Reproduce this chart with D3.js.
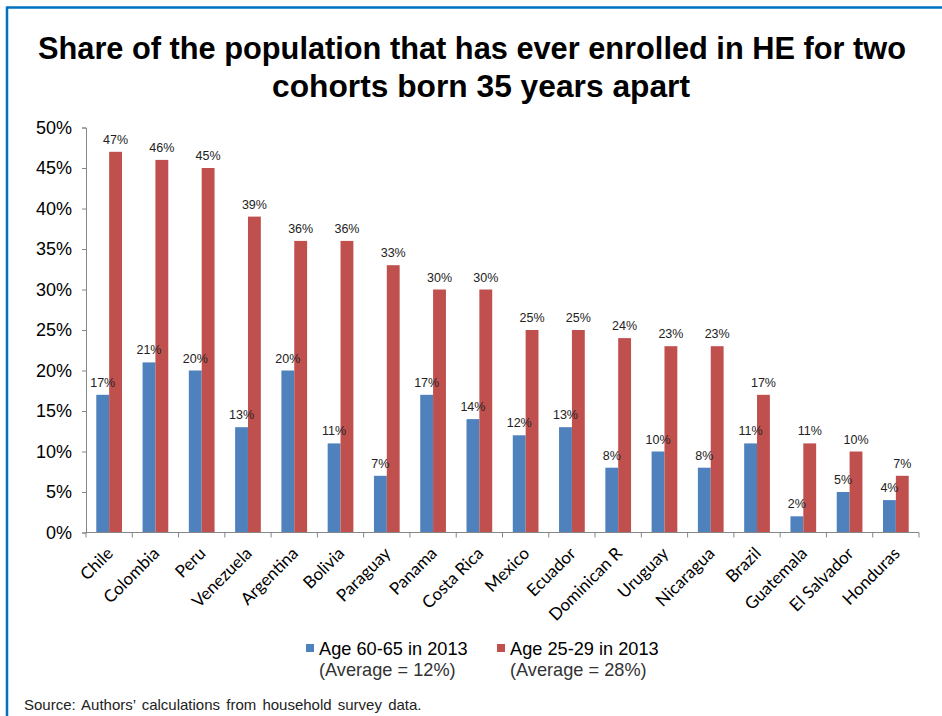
<!DOCTYPE html>
<html>
<head>
<meta charset="utf-8">
<script src="https://cdn.jsdelivr.net/npm/d3@7"></script>
<style>
  html, body { margin: 0; padding: 0; background: #fff; }
  svg { display: block; }
</style>
</head>
<body>
<svg id="chart" width="942" height="716"></svg>
<script>
const countries = ["Chile","Colombia","Peru","Venezuela","Argentina","Bolivia","Paraguay","Panama","Costa Rica","Mexico","Ecuador","Dominican R","Uruguay","Nicaragua","Brazil","Guatemala","El Salvador","Honduras"];
const age6065 = [17,21,20,13,20,11,7,17,14,12,13,8,10,8,11,2,5,4];
const age2529 = [47,46,45,39,36,36,33,30,30,25,25,24,23,23,17,11,10,7];
const yTicks = [0,5,10,15,20,25,30,35,40,45,50];
const seriesNames = ["Age 60-65 in 2013","Age 25-29 in 2013"];
const seriesNotes = ["(Average = 12%)","(Average = 28%)"];
const seriesColors = ["#4F81BD","#C0504D"];

const svg = d3.select("#chart");

// frame
svg.append("line").attr("x1",7).attr("x2",942).attr("y1",7.5).attr("y2",7.5)
  .attr("stroke","#0070C0").attr("stroke-width",2.5);
svg.append("line").attr("x1",7).attr("x2",7).attr("y1",6.5).attr("y2",716)
  .attr("stroke","#0070C0").attr("stroke-width",2.5);

// title
const title = svg.append("text").attr("text-anchor","middle")
  .attr("font-family","'Liberation Sans', Arial, sans-serif")
  .attr("font-weight","bold").attr("font-size",31).attr("fill","#000");
title.append("tspan").attr("x",472).attr("y",59)
  .attr("textLength",868).attr("lengthAdjust","spacingAndGlyphs")
  .text("Share of the population that has ever enrolled in HE for two");
title.append("tspan").attr("x",481).attr("y",97)
  .attr("textLength",418).attr("lengthAdjust","spacingAndGlyphs")
  .text("cohorts born 35 years apart");

const plotL = 86, plotR = 919, plotT = 127.5, plotB = 532.5;
const x = d3.scaleBand().domain(countries).range([plotL,plotR]).paddingInner(0).paddingOuter(0);
const inner = d3.scaleBand().domain([0,1]).range([0,x.bandwidth()]).paddingInner(0).paddingOuter(0.8);
const y = d3.scaleLinear().domain([0,50]).range([plotB,plotT]);

// y axis
const yAxis = d3.axisLeft(y).tickValues(yTicks).tickSize(4).tickFormat(d => d + "%");
const gy = svg.append("g").attr("transform",`translate(${plotL},0)`).call(yAxis);
gy.select(".domain").attr("stroke","#868686");
gy.selectAll(".tick line").attr("stroke","#868686");
gy.selectAll(".tick text").attr("font-family","'Liberation Sans', Arial, sans-serif")
  .attr("font-size",18).attr("fill","#000").attr("x",-14);

// bars
const data = countries.map((c,i) => ({c, v:[age6065[i], age2529[i]]}));
const groups = svg.append("g").selectAll("g").data(data).join("g")
  .attr("transform", d => `translate(${x(d.c)},0)`);
groups.selectAll("rect").data(d => d.v.map((v,k)=>({v,k}))).join("rect")
  .attr("x", d => inner(d.k)).attr("width", inner.bandwidth())
  .attr("y", d => y(d.v)).attr("height", d => plotB - y(d.v))
  .attr("fill", d => seriesColors[d.k]);
groups.selectAll("text.lab").data(d => d.v.map((v,k)=>({v,k}))).join("text")
  .attr("class","lab")
  .attr("x", d => inner(d.k) + inner.bandwidth()/2)
  .attr("y", d => y(d.v) - 8)
  .attr("text-anchor","middle")
  .attr("font-family","'Liberation Sans', Arial, sans-serif")
  .attr("font-size",12.5).attr("fill","#222")
  .text(d => d.v + "%");

// x axis
const gx = svg.append("g").attr("transform",`translate(0,${plotB})`);
gx.append("line").attr("x1",plotL).attr("x2",plotR).attr("stroke","#868686");
const bounds = countries.map(c => x(c)).concat([plotR]);
gx.selectAll("line.tk").data(bounds).join("line").attr("class","tk")
  .attr("x1",d=>d).attr("x2",d=>d).attr("y1",0).attr("y2",5).attr("stroke","#868686");
gx.selectAll("text").data(countries).join("text")
  .attr("transform", d => `translate(${x(d)+x.bandwidth()/2+5},${22}) rotate(-45)`)
  .attr("text-anchor","end")
  .attr("font-family","Lato, 'Open Sans', sans-serif")
  .attr("font-size",17).attr("fill","#000")
  .text(d => d);

// legend
const legX = [306, 497];
seriesNames.forEach((n,i) => {
  const g = svg.append("g");
  g.append("rect").attr("x",legX[i]).attr("y",644).attr("width",8).attr("height",8).attr("fill",seriesColors[i]);
  const t = g.append("text").attr("font-family","'Liberation Sans', Arial, sans-serif")
    .attr("font-size",18.2).attr("fill","#000");
  t.append("tspan").attr("x",legX[i]+13).attr("y",655).text(n);
  t.append("tspan").attr("x",legX[i]+13).attr("y",676).attr("fill","#333").text(seriesNotes[i]);
});

// source
svg.append("text").attr("x",24).attr("y",710)
  .attr("font-family","'Liberation Sans', Arial, sans-serif")
  .attr("font-size",15).attr("fill","#222").attr("word-spacing",2)
  .text("Source: Authors\u2019 calculations from household survey data.");
</script>
</body>
</html>
